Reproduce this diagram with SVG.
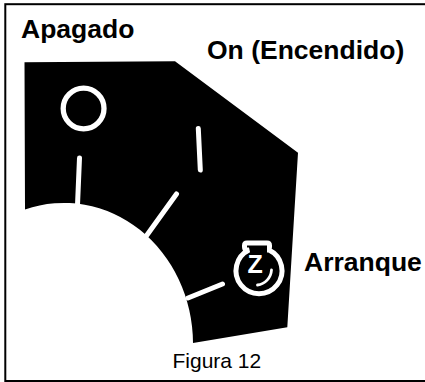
<svg xmlns="http://www.w3.org/2000/svg" width="425" height="382" viewBox="0 0 425 382">
<style>
text{font-family:"Liberation Sans",Arial,sans-serif;fill:#000}
.b{font-weight:bold;font-size:26.500px}
.w{fill:none;stroke:#fff;stroke-linecap:round}
</style>
<rect width="425" height="382" fill="#fff"/>
<rect x="5.300" y="4.200" width="430" height="376.800" fill="#fff" stroke="#000" stroke-width="2"/>
<path id="panel" fill="#000" d="M24.500 62.300L175 61.300L298 152.700L287.300 327.300L193 343A129 141 0 0 0 25 209.500Z"/>
<g id="marks">
<circle class="w" cx="83.600" cy="108.500" r="20.400" stroke-width="5.300"/>
<path class="w" stroke-width="5" d="M79.500 158L77.500 205"/>
<path class="w" stroke-width="5" d="M176.500 194L147 235"/>
<path class="w" stroke-width="5" d="M198.300 128.500L200.300 170"/>
<path class="w" stroke-width="5" d="M222.500 284L188 298"/>
</g>
<g id="start-icon">
<path class="w" stroke-width="5" d="M249 250H247Q244.500 250 244.500 247V245.500Q244.500 243 247 243H267Q269.500 243 269.500 245.500V247Q269.500 250 267 250H269A23 23 0 1 1 249 250Z"/>
<path class="w" stroke-width="2.800" d="M271.500 270C271 278 265 284 257.500 285"/>
<text x="247.500" y="273" font-size="25" font-weight="bold" style="fill:#fff">Z</text>
</g>
<g id="labels">
<text class="b" x="21" y="38">Apagado</text>
<text class="b" x="207" y="59">On (Encendido)</text>
<text class="b" x="304" y="271">Arranque</text>
<text x="172.500" y="368.300" font-size="21">Figura 12</text>
</g>
</svg>
